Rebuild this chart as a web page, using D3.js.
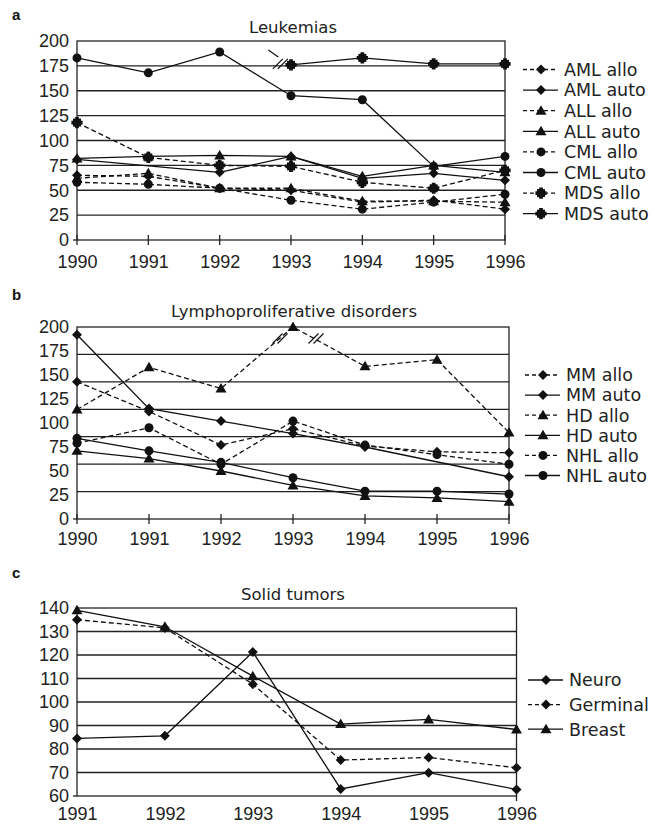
<!DOCTYPE html>
<html><head><meta charset="utf-8">
<script src="https://cdn.jsdelivr.net/npm/d3@7"></script>
<style>body{margin:0;background:#fff}svg{display:block}</style>
</head><body><div id="chart"></div>
<script>
// ---------- DATA ----------
// Panel a: Leukemias
const yearsA = [1990, 1991, 1992, 1993, 1994, 1995, 1996];
const amlAllo = [65, 64, 52, 50, 38, 40, 31];
const amlAuto = [81, null, 68, 84, 62, 67, 60];
const allAllo = [62, 67, 52, 52, 39, 39, 38];
const allAuto = [82, 84, 85, 84, 64, 75, 68];
const cmlAllo = [58, 56, 52, 40, 31, 38, 46];
const cmlAuto = [183, 168, 189, 145, 141, 74, 84];
const mdsAllo = [118, 83, 75, 74, 58, 52, 70];
const mdsAuto = [null, null, null, 176, 183, 177, 177];
const yTicksA = [0, 25, 50, 75, 100, 125, 150, 175, 200];

// Panel b: Lymphoproliferative disorders
const yearsB = [1990, 1991, 1992, 1993, 1994, 1995, 1996];
const mmAllo = [143, 112, 77, 94, 76, 70, 69];
const mmAuto = [192, 115, 102, 89, 75, null, 44];
const hdAllo = [114, 158, 136, 200, 159, 166, 90];
const hdAuto = [71, 63, 50, 35, 24, 22, 18];
const nhlAllo = [79, 95, 57, 102, 77, 67, 57];
const nhlAuto = [84, 71, 59, 43, 29, 29, 26];
const yTicksB = [0, 25, 50, 75, 100, 125, 150, 175, 200];
const gridCountB = 7; // the original gridlines split 0-200 into 7 bands

// Panel c: Solid tumors
const yearsC = [1991, 1992, 1993, 1994, 1995, 1996];
const neuro = [84.5, 85.6, 121.3, 63, 69.9, 62.8];
const germinal = [135, 131.5, 107.6, 75.3, 76.4, 72];
const breast = [139, 132, 111, 90.6, 92.6, 88.3];
const yTicksC = [60, 70, 80, 90, 100, 110, 120, 130, 140];

// ---------- DRAW ----------
const svg = d3.select("#chart").append("svg").attr("width", 660).attr("height", 825);
const INK = "#111", GRID = "#222";
const tickFont = "'Liberation Sans', Arial, sans-serif";
const textFont = "'DejaVu Sans', sans-serif";

function marker(g, type, x, y) {
  if (type === "diamond") {
    g.append("path").attr("d", `M${x},${y-5}L${x+5},${y}L${x},${y+5}L${x-5},${y}Z`).attr("fill", INK);
  } else if (type === "triangle") {
    g.append("path").attr("d", `M${x},${y-5.5}L${x+5.5},${y+4}L${x-5.5},${y+4}Z`).attr("fill", INK);
  } else if (type === "circle") {
    g.append("circle").attr("cx", x).attr("cy", y).attr("r", 4.5).attr("fill", INK);
  } else if (type === "star") {
    g.append("rect").attr("x", x-4).attr("y", y-4).attr("width", 8).attr("height", 8).attr("fill", INK);
    g.append("path").attr("d", d3.symbol(d3.symbolCross, 70)()).attr("transform", `translate(${x},${y})`).attr("fill", INK);
  }
}

function panel(cfg) {
  const g = svg.append("g");
  const x = d3.scaleLinear().domain([cfg.years[0], cfg.years[cfg.years.length-1]]).range([cfg.left, cfg.right]);
  const y = d3.scaleLinear().domain(cfg.yDomain).range([cfg.bottom, cfg.top]);

  // gridlines
  g.selectAll(".grid").data(cfg.grid).enter().append("line")
    .attr("x1", cfg.left).attr("x2", cfg.right)
    .attr("y1", d => y(d)).attr("y2", d => y(d))
    .attr("stroke", GRID).attr("stroke-width", 1.3);
  // frame
  g.append("rect").attr("x", cfg.left).attr("y", cfg.top)
    .attr("width", cfg.right - cfg.left).attr("height", cfg.bottom - cfg.top)
    .attr("fill", "none").attr("stroke", GRID).attr("stroke-width", 1.3);
  // small axis extensions
  g.append("line").attr("x1", cfg.left - 4).attr("x2", cfg.left).attr("y1", cfg.bottom).attr("y2", cfg.bottom).attr("stroke", GRID).attr("stroke-width", 1.3);

  // x ticks
  if (cfg.xTicks) {
    g.selectAll(".xt").data(cfg.years).enter().append("line")
      .attr("x1", d => x(d)).attr("x2", d => x(d))
      .attr("y1", cfg.bottom - 5).attr("y2", cfg.bottom + 5)
      .attr("stroke", GRID).attr("stroke-width", 1.3);
  } else {
    g.append("line").attr("x1", cfg.right).attr("x2", cfg.right).attr("y1", cfg.bottom).attr("y2", cfg.bottom + 5).attr("stroke", GRID).attr("stroke-width", 1.3);
  }

  // y axis labels
  const yAxis = d3.axisLeft(y).tickValues(cfg.yTicks).tickSize(0).tickPadding(8).tickFormat(d3.format("d"));
  const ya = g.append("g").attr("transform", `translate(${cfg.left},0)`).call(yAxis);
  ya.select(".domain").remove();
  ya.selectAll("text").attr("font-family", tickFont).attr("font-size", 18).attr("fill", "#222");

  // x axis labels
  const xAxis = d3.axisBottom(x).tickValues(cfg.years).tickSize(0).tickPadding(0).tickFormat(d3.format("d"));
  const xa = g.append("g").attr("transform", `translate(0,${cfg.xLabelY})`).call(xAxis);
  xa.select(".domain").remove();
  xa.selectAll("text").attr("dy", null).attr("y", 0).attr("font-family", tickFont).attr("font-size", 18).attr("fill", "#222");

  // title & panel letter
  g.append("text").attr("x", cfg.titleX).attr("y", cfg.titleY).attr("text-anchor", "middle")
    .attr("font-family", textFont).attr("font-size", 16.5).attr("fill", "#222").text(cfg.title);
  g.append("text").attr("x", 12).attr("y", cfg.letterY)
    .attr("font-family", "'Liberation Sans', Arial, sans-serif").attr("font-weight", "bold").attr("font-size", 15).attr("fill", "#111").text(cfg.letter);

  // series
  const line = d3.line().x(d => x(d.yr)).y(d => y(d.v));
  cfg.series.forEach((s, i) => {
    const pts = cfg.years.map((yr, j) => ({ yr, v: s.values[j] })).filter(d => d.v != null);
    g.append("path").attr("d", line(pts)).attr("fill", "none").attr("stroke", INK)
      .attr("stroke-width", 1.3).attr("stroke-dasharray", s.dashed ? "5,3" : null);
    const mg = g.append("g");
    pts.forEach(d => marker(mg, s.marker, x(d.yr), y(d.v)));

    // legend
    const ly = cfg.legend.y + i * cfg.legend.dy;
    const lx = cfg.legend.x;
    g.append("line").attr("x1", lx).attr("x2", lx + 35).attr("y1", ly).attr("y2", ly)
      .attr("stroke", INK).attr("stroke-width", 1.3).attr("stroke-dasharray", s.dashed ? "4,3" : null);
    marker(g, s.marker, lx + 18, ly);
    g.append("text").attr("x", lx + 41).attr("y", ly).attr("dy", "0.36em")
      .attr("font-family", textFont).attr("font-size", 17.5).attr("fill", "#222").text(s.name);
  });

  // break marks
  (cfg.breaks || []).forEach(b => {
    const bx = x(b.yr), by = y(b.v);
    const bg = g.append("g").attr("stroke", INK).attr("stroke-width", 1.2);
    if (b.lead) bg.append("line").attr("x1", bx - 12).attr("y1", by - 14).attr("x2", bx - 2).attr("y2", by - 7);
    [-2.5, 2.5].forEach(o => bg.append("line")
      .attr("x1", bx + o - 5).attr("y1", by + 5).attr("x2", bx + o + 5).attr("y2", by - 5));
  });
  return { x, y };
}

panel({
  years: yearsA, yDomain: [0, 200], yTicks: yTicksA, grid: yTicksA.slice(1, -1),
  left: 77, right: 505, top: 41, bottom: 240, xLabelY: 268, xTicks: true,
  title: "Leukemias", titleX: 293, titleY: 33, letter: "a", letterY: 20,
  legend: { x: 523, y: 69.5, dy: 20.6 },
  series: [
    { name: "AML allo", values: amlAllo, dashed: true, marker: "diamond" },
    { name: "AML auto", values: amlAuto, dashed: false, marker: "diamond" },
    { name: "ALL allo", values: allAllo, dashed: true, marker: "triangle" },
    { name: "ALL auto", values: allAuto, dashed: false, marker: "triangle" },
    { name: "CML allo", values: cmlAllo, dashed: true, marker: "circle" },
    { name: "CML auto", values: cmlAuto, dashed: false, marker: "circle" },
    { name: "MDS allo", values: mdsAllo, dashed: true, marker: "star" },
    { name: "MDS auto", values: mdsAuto, dashed: false, marker: "star" }
  ],
  breaks: [{ yr: 1992.85, v: 177, lead: true }]
});

panel({
  years: yearsB, yDomain: [0, 200], yTicks: yTicksB,
  grid: d3.range(1, gridCountB).map(k => 200 * k / gridCountB),
  left: 77, right: 509, top: 327, bottom: 519, xLabelY: 545, xTicks: true,
  title: "Lymphoproliferative disorders", titleX: 294, titleY: 317, letter: "b", letterY: 300,
  legend: { x: 525, y: 375, dy: 20.1 },
  series: [
    { name: "MM allo", values: mmAllo, dashed: true, marker: "diamond" },
    { name: "MM auto", values: mmAuto, dashed: false, marker: "diamond" },
    { name: "HD allo", values: hdAllo, dashed: true, marker: "triangle" },
    { name: "HD auto", values: hdAuto, dashed: false, marker: "triangle" },
    { name: "NHL allo", values: nhlAllo, dashed: true, marker: "circle" },
    { name: "NHL auto", values: nhlAuto, dashed: false, marker: "circle" }
  ],
  breaks: [{ yr: 1992.82, v: 188 }, { yr: 1993.32, v: 188 }]
});

panel({
  years: yearsC, yDomain: [60, 140], yTicks: yTicksC, grid: yTicksC.slice(1, -1),
  left: 77, right: 516.5, top: 608, bottom: 796, xLabelY: 820, xTicks: false,
  title: "Solid tumors", titleX: 293, titleY: 600, letter: "c", letterY: 578,
  legend: { x: 528, y: 680, dy: 24.6 },
  series: [
    { name: "Neuro", values: neuro, dashed: false, marker: "diamond" },
    { name: "Germinal", values: germinal, dashed: true, marker: "diamond" },
    { name: "Breast", values: breast, dashed: false, marker: "triangle" }
  ]
});
</script></body></html>
